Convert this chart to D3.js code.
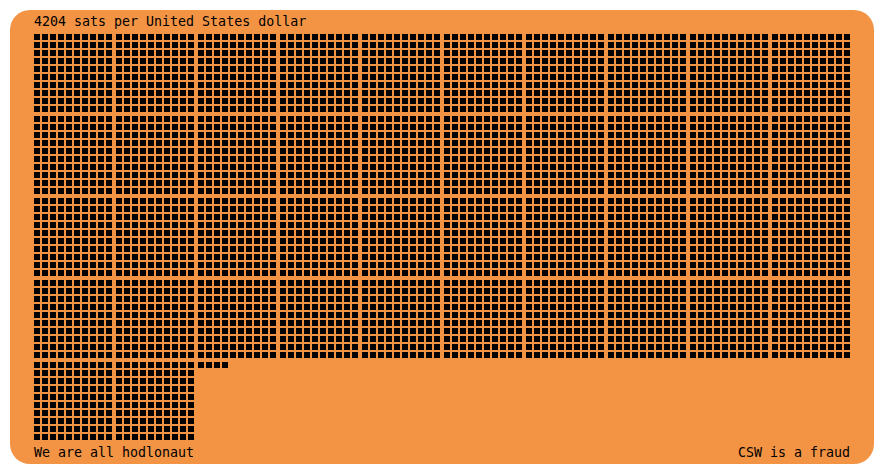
<!DOCTYPE html>
<html><head><meta charset="utf-8">
<script src="https://cdn.jsdelivr.net/npm/d3@7"></script>
<style>html,body{margin:0;padding:0;background:#fff;}svg{display:block;}</style>
</head><body>
<script>
const satsPerDollar = [4204];
const titleText = ["4204 sats per United States dollar"];
const footerLeft = ["We are all hodlonaut"];
const footerRight = ["CSW is a fraud"];

const W = 884, H = 474;
const svg = d3.select("body").append("svg").attr("width", W).attr("height", H);

svg.append("rect").attr("x", 10).attr("y", 10).attr("width", 864).attr("height", 454)
  .attr("rx", 20).attr("ry", 20).attr("fill", "#f39445");

const n = satsPerDollar[0];
const cells = d3.range(n).map(i => {
  const block = Math.floor(i / 100), within = i % 100;
  return {bc: block % 10, br: Math.floor(block / 10), c: within % 10, r: Math.floor(within / 10)};
});
const blockX = d3.scaleLinear().domain([0, 1]).range([34, 116]);
const blockY = d3.scaleLinear().domain([0, 1]).range([34, 116]);
const cellS = d3.scaleLinear().domain([0, 1]).range([0, 8]);

svg.append("g").selectAll("rect").data(cells).join("rect")
  .attr("x", d => blockX(d.bc) + cellS(d.c))
  .attr("y", d => blockY(d.br) + cellS(d.r))
  .attr("width", 6).attr("height", 6).attr("fill", "#000");

const font = "'DejaVu Sans Mono', monospace";
svg.append("text").attr("x", 34).attr("y", 26).text(titleText[0])
  .attr("font-family", font).attr("font-size", 13.3).attr("fill", "#000");
svg.append("text").attr("x", 34).attr("y", 457).text(footerLeft[0])
  .attr("font-family", font).attr("font-size", 13.3).attr("fill", "#000");
svg.append("text").attr("x", 850).attr("y", 457).attr("text-anchor", "end").text(footerRight[0])
  .attr("font-family", font).attr("font-size", 13.3).attr("fill", "#000");
</script>
</body></html>
